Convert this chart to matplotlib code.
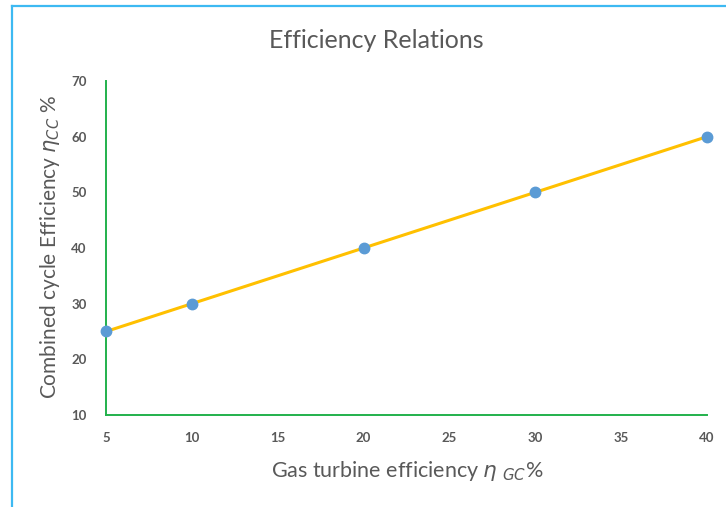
import matplotlib
matplotlib.use("Agg")
import matplotlib.pyplot as plt
from matplotlib.lines import Line2D

# Data
gas_turbine_eff = [5, 10, 20, 30, 40]
combined_cycle_eff = [25, 30, 40, 50, 60]
x_ticks = [5, 10, 15, 20, 25, 30, 35, 40]
y_ticks = [10, 20, 30, 40, 50, 60, 70]

plt.rcParams['font.family'] = ['Lato', 'DejaVu Sans']
plt.rcParams['mathtext.fontset'] = 'dejavusans'

fig = plt.figure(figsize=(7.26, 5.07), dpi=100)
W, H = 726, 507

# Outer frame (light blue) along the top and left edges
fig.add_artist(Line2D([12 / W, 12 / W], [0, 1 - 6 / H], color='#3DB9F2', lw=1.6))
fig.add_artist(Line2D([12 / W, 1], [1 - 6 / H, 1 - 6 / H], color='#3DB9F2', lw=1.6))

ax = fig.add_axes([106 / W, 1 - 415 / H, (707 - 106) / W, (415 - 81) / H])
ax.plot(gas_turbine_eff, combined_cycle_eff, color='#FFC000', lw=2.2, zorder=2,
        clip_on=False)
ax.plot(gas_turbine_eff, combined_cycle_eff, 'o', color='#5B9BD5', ms=7.5,
        zorder=3, clip_on=False)

ax.set_xlim(5, 40)
ax.set_ylim(10, 70)
ax.set_xticks(x_ticks)
ax.set_yticks(y_ticks)

for side in ('top', 'right'):
    ax.spines[side].set_visible(False)
for side in ('left', 'bottom'):
    ax.spines[side].set_color('#22B14C')
    ax.spines[side].set_linewidth(1.4)
ax.spines['left'].set_zorder(1)

ax.tick_params(axis='both', length=0, labelsize=9.5, labelcolor='#595959')
ax.tick_params(axis='y', pad=14)
ax.tick_params(axis='x', pad=12)
for lab in ax.get_xticklabels() + ax.get_yticklabels():
    lab.set_fontweight('bold')

fig.text(376 / W, 1 - 40 / H, 'Efficiency Relations', ha='center', va='center',
         fontsize=18, color='#595959')
fig.text(50 / W, 1 - 247 / H, r'Combined cycle Efficiency $\eta_{CC}$ %',
         rotation=90, ha='center', va='center', fontsize=15, color='#595959')
fig.text(407 / W, 1 - 471 / H, r'Gas turbine efficiency $\eta$ $_{GC}$%',
         ha='center', va='center', fontsize=15.5, color='#595959')

fig.savefig('out.png', dpi=100, facecolor='white')
